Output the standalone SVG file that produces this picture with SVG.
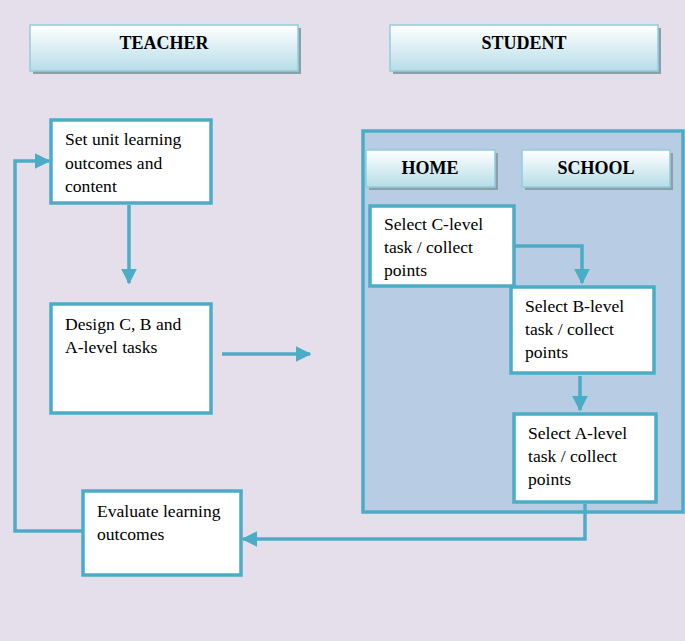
<svg xmlns="http://www.w3.org/2000/svg" width="685" height="641" viewBox="0 0 685 641">
<defs>
<linearGradient id="hg" x1="0" y1="0" x2="0" y2="1"><stop offset="0" stop-color="#ffffff"/><stop offset="1" stop-color="#b7dde8"/></linearGradient>
<marker id="ah" viewBox="0 0 10 10" refX="9" refY="5" markerWidth="4.5" markerHeight="4.5" orient="auto"><path d="M0,0L10,5L0,10z" fill="#4BACC6"/></marker>
<style>
.hdr{fill:url(#hg);stroke:#92cddc;stroke-width:1.5}
.sh{fill:#8aa0a8}
.ht{font-family:"Liberation Serif",serif;font-weight:bold;font-size:18px;text-anchor:middle;fill:#000}
.box{fill:#fff;stroke:#4BACC6;stroke-width:3.5}
.t{font-family:"Liberation Serif",serif;font-size:17.6px;fill:#000}
.c{fill:none;stroke:#4BACC6;stroke-width:3.5;marker-end:url(#ah)}
</style>
</defs>
<rect width="685" height="641" fill="#E5DFEC"/>
<g id="teacher"><rect class="sh" x="33" y="28" width="268" height="46"/><rect class="hdr" x="30" y="25" width="268" height="46"/><text class="ht" x="164" y="49">TEACHER</text></g>
<g id="student"><rect class="sh" x="393" y="28" width="268" height="46"/><rect class="hdr" x="390" y="25" width="268" height="46"/><text class="ht" x="524" y="49">STUDENT</text></g>
<g id="studentarea"><rect x="363" y="131" width="320" height="381" fill="#B8CCE4" stroke="#4BACC6" stroke-width="3.5"/></g>
<g id="home"><rect class="sh" x="369" y="153" width="129" height="37"/><rect class="hdr" x="366" y="150" width="129" height="37"/><text class="ht" x="430" y="174">HOME</text></g>
<g id="school"><rect class="sh" x="525" y="153" width="148" height="37"/><rect class="hdr" x="522" y="150" width="148" height="37"/><text class="ht" x="596" y="174">SCHOOL</text></g>
<g id="n1"><rect class="box" x="51" y="120" width="160" height="83"/><text class="t"><tspan x="65" y="145">Set unit learning</tspan><tspan x="65" y="169">outcomes and</tspan><tspan x="65" y="192">content</tspan></text></g>
<g id="n2"><rect class="box" x="51" y="304" width="160" height="109"/><text class="t"><tspan x="65" y="330">Design C, B and</tspan><tspan x="65" y="353">A-level tasks</tspan></text></g>
<g id="n3"><rect class="box" x="83" y="491" width="158" height="84"/><text class="t"><tspan x="97" y="517">Evaluate learning</tspan><tspan x="97" y="540">outcomes</tspan></text></g>
<g id="c1"><rect class="box" x="370" y="206" width="144" height="80"/><text class="t"><tspan x="384" y="230">Select C-level</tspan><tspan x="384" y="253">task / collect</tspan><tspan x="384" y="276">points</tspan></text></g>
<g id="b1"><rect class="box" x="511" y="287" width="143" height="86"/><text class="t"><tspan x="525" y="312">Select B-level</tspan><tspan x="525" y="335">task / collect</tspan><tspan x="525" y="358">points</tspan></text></g>
<g id="a1"><rect class="box" x="514" y="414" width="142" height="88"/><text class="t"><tspan x="528" y="439">Select A-level</tspan><tspan x="528" y="462">task / collect</tspan><tspan x="528" y="485">points</tspan></text></g>
<g id="connectors">
<path class="c" d="M129,205V283"/>
<path class="c" d="M222,354H310"/>
<path class="c" d="M514,246H582V283"/>
<path class="c" d="M580,376V410"/>
<path class="c" d="M585,504V539H243"/>
<path class="c" d="M83,531H15V161H49"/>
</g>
</svg>
